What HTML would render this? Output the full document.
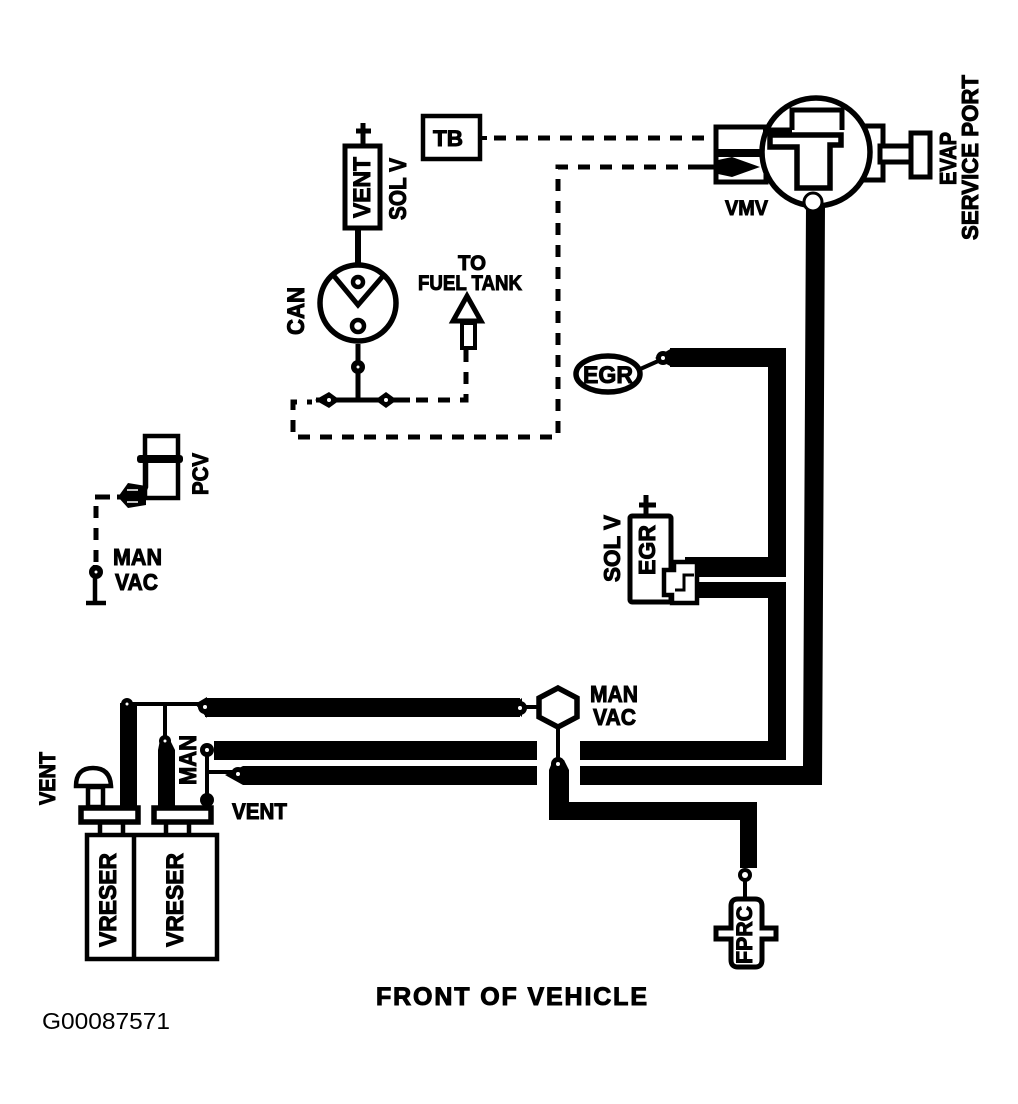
<!DOCTYPE html>
<html>
<head>
<meta charset="utf-8">
<style>
html,body{margin:0;padding:0;background:#fff;}
svg{display:block;}
text{font-family:"Liberation Sans",sans-serif;font-weight:bold;fill:#000;stroke:#000;stroke-width:1px;}
.thin{font-weight:normal;stroke:none;}
</style>
</head>
<body>
<svg width="1018" height="1104" viewBox="0 0 1018 1104" xmlns="http://www.w3.org/2000/svg">
<rect width="1018" height="1104" fill="#fff"/>

<!-- thick hoses -->
<g fill="#000" stroke="none">
<polygon points="806,205 825,205 822,785 580,785 580,766 803,766"/>
<polygon points="670,348 786,348 786,577 685,577 685,557 768,557 768,367 670,367"/>
<polygon points="698,582 786,582 786,760 580,760 580,741 768,741 768,598 698,598"/>
<rect x="205" y="698" width="315" height="19"/>
<rect x="214" y="741" width="323" height="19"/>
<rect x="243" y="766" width="294" height="19"/>
<polygon points="120,703 137,703 137,806 120,806"/>
<polygon points="160,740 170,740 175,750 175,806 158,806 158,750"/>
<polygon points="553,760 564,760 569,770 569,802 757,802 757,868 740,868 740,820 549,820 549,770"/>
</g>

<!-- thin lines -->
<g fill="none" stroke="#000" stroke-width="4">
<path d="M127,704H200"/>
<path d="M165,704V740"/>
<path d="M207,750V800"/>
<path d="M207,772H235"/>
<path d="M520,707H539"/>
<path d="M558,727V760"/>
<path d="M745,880V898"/>
<path d="M638,370L665,358"/>
</g>
<g fill="#000" stroke="none">
<path d="M195,704L207,697V718Z"/>
<path d="M510,707L522,698V717Z"/>
<path d="M225,775L243,766V785Z"/>
<path d="M655,358L672,348V367Z"/>
</g>
<g fill="#000">
<circle cx="127" cy="704" r="6"/><circle cx="165" cy="741" r="6"/><circle cx="205" cy="707" r="7"/>
<circle cx="207" cy="750" r="7"/><circle cx="207" cy="800" r="7"/><circle cx="238" cy="774" r="7"/>
<circle cx="520" cy="708" r="7"/><circle cx="558" cy="764" r="7"/><circle cx="745" cy="875" r="7"/>
<circle cx="663" cy="358" r="7"/>
</g>
<g fill="#fff">
<circle cx="127" cy="704" r="1.5"/><circle cx="165" cy="741" r="1.5"/><circle cx="205" cy="707" r="2"/>
<circle cx="207" cy="750" r="2"/><circle cx="238" cy="774" r="2"/><circle cx="520" cy="708" r="2"/>
<circle cx="558" cy="764" r="2"/><circle cx="745" cy="875" r="3"/><circle cx="663" cy="358" r="2"/>
</g>

<!-- VMV -->
<g fill="#fff" stroke="#000" stroke-width="5">
<rect x="716" y="127" width="50" height="55"/>
<rect x="858" y="126" width="25" height="54"/>
<rect x="880" y="146" width="32" height="16"/>
<rect x="911" y="133" width="19" height="44"/>
<circle cx="816" cy="152" r="54" stroke-width="5.5"/>
<path d="M792,130V110H842V130"/>
<path d="M763,130H792"/>
<path d="M770,135H841V145H830V188H797V147H770Z" stroke-width="5.5"/>
</g>
<rect x="716" y="149" width="45" height="8" fill="#000"/>
<circle cx="813" cy="202" r="9" fill="#fff" stroke="#000" stroke-width="3"/>
<path d="M700,167H725" stroke="#000" stroke-width="5"/>
<polygon points="718,160 732,157 760,167 732,177 718,174" fill="#000"/>

<!-- dashed lines -->
<g fill="none" stroke="#000" stroke-width="5" stroke-dasharray="12 10">
<path d="M494,138H715"/>
<path d="M700,167H558V437H293V402H312"/>
<path d="M466,350V400H412"/>
<path d="M96,506V565"/>
</g>
<path d="M481,138H487" stroke="#000" stroke-width="4"/>
<path d="M95,497H110" stroke="#000" stroke-width="5"/>

<!-- TB -->
<rect x="423" y="116" width="57" height="43" fill="#fff" stroke="#000" stroke-width="4.5"/>
<text x="433" y="146" font-size="22" textLength="30" lengthAdjust="spacingAndGlyphs">TB</text>

<!-- SOL V / CAN -->
<rect x="345" y="146" width="35" height="82" fill="#fff" stroke="#000" stroke-width="5"/>
<path d="M363,123V146M356,131H371" stroke="#000" stroke-width="5" fill="none"/>
<path d="M358,229V263" stroke="#000" stroke-width="6"/>
<circle cx="358" cy="303" r="38" fill="#fff" stroke="#000" stroke-width="5.5"/>
<path d="M334,276L358,305L383,276" fill="none" stroke="#000" stroke-width="5"/>
<circle cx="358" cy="282" r="5" fill="#fff" stroke="#000" stroke-width="4.5"/>
<circle cx="358" cy="326" r="6" fill="#fff" stroke="#000" stroke-width="4.5"/>
<path d="M358,344V400M316,400H410" stroke="#000" stroke-width="5" fill="none"/>
<circle cx="358" cy="367" r="7" fill="#000"/><circle cx="358" cy="367" r="1.5" fill="#fff"/>
<path d="M315,400L329,392L340,400L329,408Z" fill="#000"/><circle cx="329" cy="400" r="2" fill="#fff"/>
<path d="M375,400L386,392L397,400L386,408Z" fill="#000"/><circle cx="386" cy="400" r="2" fill="#fff"/>

<!-- fuel tank arrow -->
<polygon points="467,296 481,321 453,321" fill="#fff" stroke="#000" stroke-width="5"/>
<rect x="462" y="323" width="13" height="25" fill="#fff" stroke="#000" stroke-width="4"/>

<!-- EGR + sol -->
<ellipse cx="608" cy="374" rx="32" ry="18" fill="#fff" stroke="#000" stroke-width="5.5"/>
<text x="583" y="383" font-size="24" textLength="50" lengthAdjust="spacingAndGlyphs">EGR</text>
<rect x="630" y="516" width="41" height="86" rx="2" fill="#fff" stroke="#000" stroke-width="5"/>
<path d="M646,495V516M639,505H656" stroke="#000" stroke-width="5" fill="none"/>
<path d="M664,570H674V562H697V603H672V595H664Z" fill="#fff" stroke="#000" stroke-width="4.5"/>
<path d="M675,590H684V575H694" fill="none" stroke="#000" stroke-width="3"/>

<!-- PCV -->
<rect x="145" y="436" width="33" height="62" fill="#fff" stroke="#000" stroke-width="4.5"/>
<rect x="137" y="455" width="46" height="8" rx="3" fill="#000"/>
<path d="M146,463V487L142,496" stroke="#000" stroke-width="4.5" fill="none"/>
<path d="M118,497L128,483L146,486V505L128,508Z" fill="#000"/>
<path d="M127,490H138M127,502H138" stroke="#fff" stroke-width="1.5"/>
<path d="M117,497H124" stroke="#000" stroke-width="5"/>
<path d="M95,565V602M86,603H106" stroke="#000" stroke-width="4.5" fill="none"/>
<circle cx="96" cy="572" r="7" fill="#000"/><circle cx="96" cy="572" r="1.5" fill="#fff"/>

<!-- man vac hexagon -->
<polygon points="558,688 577,698 577,717 558,727 539,717 539,698" fill="#fff" stroke="#000" stroke-width="5.5"/>

<!-- FPRC -->
<path d="M716,928H731V906Q731,899 738,899H755Q762,899 762,906V928H776V939H762V960Q762,967 755,967H738Q731,967 731,960V939H716Z" fill="#fff" stroke="#000" stroke-width="5"/>
<text transform="translate(752,964) rotate(-90)" font-size="22" textLength="58" lengthAdjust="spacingAndGlyphs">FPRC</text>

<!-- vreser -->
<g fill="#fff" stroke="#000" stroke-width="4.5">
<rect x="87" y="835" width="130" height="124"/>
<path d="M134,835V959"/>
<path d="M100,823V835M123,823V835M166,823V835M189,823V835"/>
<rect x="81" y="808" width="57" height="14" stroke-width="5.5"/>
<rect x="154" y="808" width="57" height="14" stroke-width="5.5"/>
<rect x="88" y="787" width="15" height="20"/>
</g>
<path d="M76,786Q76,768 93,768Q110,768 111,786Z" fill="#fff" stroke="#000" stroke-width="4.5"/>
<text transform="translate(116,947) rotate(-90)" font-size="24" textLength="94" lengthAdjust="spacingAndGlyphs">VRESER</text>
<text transform="translate(183,947) rotate(-90)" font-size="24" textLength="94" lengthAdjust="spacingAndGlyphs">VRESER</text>

<!-- labels -->
<text transform="translate(370,218) rotate(-90)" font-size="24" textLength="61" lengthAdjust="spacingAndGlyphs">VENT</text>
<text transform="translate(406,220) rotate(-90)" font-size="24" textLength="62" lengthAdjust="spacingAndGlyphs">SOL V</text>
<text transform="translate(304,335) rotate(-90)" font-size="24" textLength="48" lengthAdjust="spacingAndGlyphs">CAN</text>
<text x="458" y="270" font-size="21" textLength="28" lengthAdjust="spacingAndGlyphs">TO</text>
<text x="418" y="290" font-size="21" textLength="104" lengthAdjust="spacingAndGlyphs">FUEL TANK</text>
<text x="725" y="215" font-size="21" textLength="43" lengthAdjust="spacingAndGlyphs">VMV</text>
<text transform="translate(956,185) rotate(-90)" font-size="23" textLength="53" lengthAdjust="spacingAndGlyphs">EVAP</text>
<text transform="translate(978,240) rotate(-90)" font-size="23" textLength="165" lengthAdjust="spacingAndGlyphs">SERVICE PORT</text>
<text transform="translate(620,582) rotate(-90)" font-size="23" textLength="67" lengthAdjust="spacingAndGlyphs">SOL V</text>
<text transform="translate(655,575) rotate(-90)" font-size="23" textLength="50" lengthAdjust="spacingAndGlyphs">EGR</text>
<text transform="translate(208,495) rotate(-90)" font-size="22" textLength="42" lengthAdjust="spacingAndGlyphs">PCV</text>
<text x="113" y="565" font-size="23" textLength="49" lengthAdjust="spacingAndGlyphs">MAN</text>
<text x="115" y="590" font-size="23" textLength="43" lengthAdjust="spacingAndGlyphs">VAC</text>
<text x="590" y="702" font-size="23" textLength="48" lengthAdjust="spacingAndGlyphs">MAN</text>
<text x="593" y="725" font-size="23" textLength="43" lengthAdjust="spacingAndGlyphs">VAC</text>
<text transform="translate(55,805) rotate(-90)" font-size="22" textLength="53" lengthAdjust="spacingAndGlyphs">VENT</text>
<text x="232" y="819" font-size="22" textLength="55" lengthAdjust="spacingAndGlyphs">VENT</text>
<text transform="translate(196,785) rotate(-90)" font-size="24" textLength="50" lengthAdjust="spacingAndGlyphs">MAN</text>
<text x="376" y="1005" font-size="25" textLength="271" lengthAdjust="spacing">FRONT OF VEHICLE</text>
<text class="thin" x="42" y="1029" font-size="23" textLength="128" lengthAdjust="spacingAndGlyphs">G00087571</text>
</svg>
</body>
</html>
